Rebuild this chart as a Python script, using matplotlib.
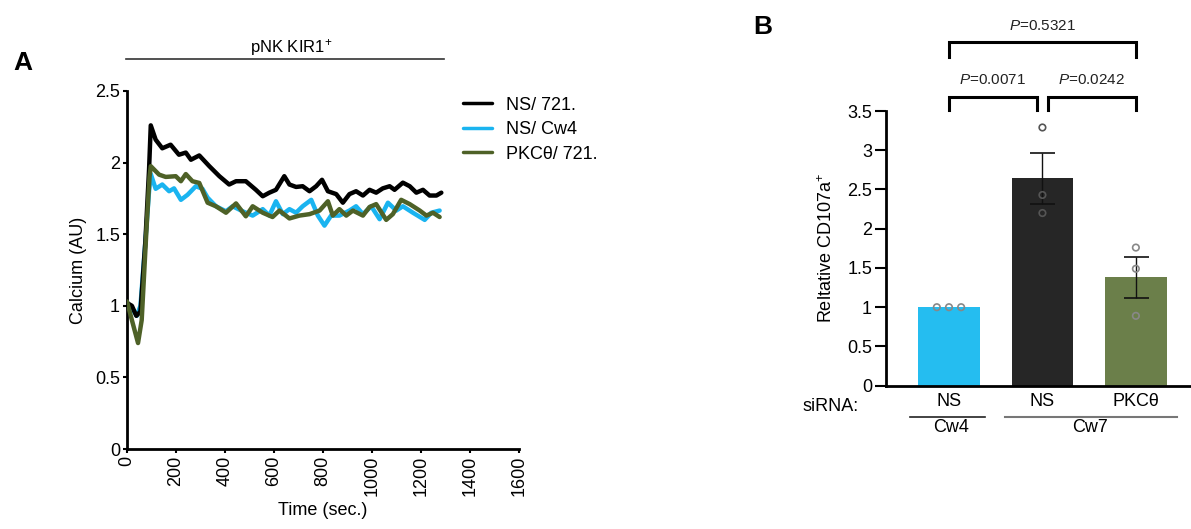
import matplotlib
matplotlib.use("Agg")
import matplotlib.pyplot as plt
import numpy as np

plt.rcParams['font.family'] = ['Liberation Sans', 'DejaVu Sans']
plt.rcParams['mathtext.fontset'] = 'custom'
plt.rcParams['mathtext.rm'] = 'Liberation Sans'
plt.rcParams['mathtext.it'] = 'Liberation Sans:italic'

# --- panel A: calcium traces ---
t_black = [0, 20, 38, 55, 75, 90, 97, 117, 144, 178, 212, 240, 261, 295, 336, 377, 417, 445,
           485, 526, 554, 581, 608, 642, 663, 690, 717, 745, 772, 796, 820, 854, 881, 908,
           935, 963, 990, 1017, 1044, 1072, 1092, 1126, 1154, 1181, 1208, 1235, 1263, 1283]
ca_black = [1.02, 1.0, 0.93, 0.96, 1.45, 1.95, 2.26, 2.16, 2.10, 2.125, 2.055, 2.07, 2.02, 2.05,
            1.975, 1.905, 1.847, 1.87, 1.87, 1.81, 1.765, 1.79, 1.81, 1.905, 1.847, 1.83,
            1.835, 1.80, 1.835, 1.88, 1.80, 1.78, 1.72, 1.78, 1.80, 1.77, 1.81, 1.79, 1.82,
            1.835, 1.81, 1.86, 1.835, 1.79, 1.81, 1.77, 1.77, 1.79]

t_blue = [0, 20, 40, 55, 75, 90, 97, 117, 144, 172, 192, 220, 247, 281, 308, 329, 363, 404,
          431, 472, 513, 554, 581, 608, 636, 663, 690, 717, 752, 779, 806, 833, 867, 908,
          935, 963, 997, 1031, 1065, 1099, 1126, 1167, 1215, 1242, 1276]
ca_blue = [0.97, 0.98, 0.93, 1.0, 1.45, 1.8, 1.92, 1.817, 1.847, 1.80, 1.82, 1.74, 1.775, 1.835,
           1.817, 1.755, 1.695, 1.66, 1.695, 1.66, 1.63, 1.675, 1.63, 1.73, 1.64, 1.675, 1.65,
           1.695, 1.74, 1.63, 1.56, 1.63, 1.63, 1.665, 1.695, 1.64, 1.695, 1.605, 1.72,
           1.665, 1.695, 1.65, 1.60, 1.65, 1.665]

t_green = [0, 20, 45, 60, 80, 92, 97, 131, 158, 199, 220, 240, 267, 295, 329, 363, 404, 445,
           485, 513, 554, 594, 622, 663, 704, 745, 786, 820, 840, 867, 895, 922, 963, 990,
           1017, 1058, 1085, 1119, 1154, 1195, 1222, 1249, 1276]
ca_green = [1.03, 0.9, 0.74, 0.9, 1.55, 1.9, 1.975, 1.916, 1.90, 1.905, 1.87, 1.92, 1.87, 1.858,
            1.72, 1.695, 1.65, 1.715, 1.625, 1.695, 1.65, 1.62, 1.665, 1.61, 1.63, 1.64,
            1.665, 1.73, 1.63, 1.675, 1.63, 1.665, 1.63, 1.69, 1.71, 1.60, 1.64, 1.74, 1.71,
            1.665, 1.63, 1.65, 1.62]

# --- panel B: CD107a ---
bar_means = [1.0, 2.64, 1.38]
bar_sem = [0.0, 0.33, 0.26]
bar_points = [[1.0, 1.0, 1.0], [3.29, 2.43, 2.20], [1.76, 1.49, 0.89]]
bar_colors = ['#25bdf0', '#262626', '#6b7f4a']
sirna_labels = ['NS', 'NS', 'PKC\u03b8']
pvals = ['0.0071', '0.0242', '0.5321']

W, H = 1191, 529
fig = plt.figure(figsize=(W / 100, H / 100), dpi=100)

# panel A
axA = fig.add_axes([127 / W, 1 - 449 / H, 392 / W, 358 / H])
kw = dict(lw=3.2, solid_joinstyle='round', solid_capstyle='round')
axA.plot(t_black, ca_black, color='#000000', label='NS/ 721.', zorder=3, **kw)
axA.plot(t_blue, ca_blue, color='#1ab4f0', label='NS/ Cw4', zorder=2, **kw)
axA.plot(t_green, ca_green, color='#4e6127', label='PKC\u03b8/ 721.', zorder=4, **kw)
axA.set_xlim(0, 1600)
axA.set_ylim(0, 2.5)
axA.set_xticks(np.arange(0, 1601, 200))
axA.set_yticks([0, 0.5, 1, 1.5, 2, 2.5])
axA.set_yticklabels(['0', '0.5', '1', '1.5', '2', '2.5'])
for s in ['top', 'right']:
    axA.spines[s].set_visible(False)
for s in ['left', 'bottom']:
    axA.spines[s].set_linewidth(2)
axA.tick_params(axis='both', labelsize=13, width=1.5, length=3, direction='out', pad=2)
axA.tick_params(axis='x', labelrotation=90)
axA.set_xlabel('Time (sec.)', fontsize=13, labelpad=4)
axA.set_ylabel('Calcium (AU)', fontsize=13, labelpad=6)
axA.legend(loc='upper left', bbox_to_anchor=(0.815, 1.03), frameon=False, fontsize=13,
           handlelength=1.6, handletextpad=0.8, labelspacing=0.42)
for line in axA.get_legend().get_lines():
    line.set_linewidth(2.5)

fig.text(291 / W, 1 - 47 / H, 'pNK KIR1$^{+}$', ha='center', va='center', fontsize=12)
fig.add_artist(plt.Line2D([126 / W, 444 / W], [1 - 59 / H, 1 - 59 / H], color='#333333', lw=1.2))
fig.text(23 / W, 1 - 63 / H, 'A', ha='center', va='center', fontsize=19, fontweight='bold')
fig.text(763 / W, 1 - 27 / H, 'B', ha='center', va='center', fontsize=19, fontweight='bold')

# panel B
axB = fig.add_axes([886 / W, 1 - 385.7 / H, (W - 886) / W, 274.7 / H])
xpos = np.arange(len(bar_means))
axB.bar(xpos, bar_means, width=0.66, color=bar_colors, zorder=1)
axB.errorbar(xpos[1:], bar_means[1:], yerr=bar_sem[1:], fmt='none', ecolor='#111111',
             elinewidth=1, capsize=9, capthick=1.2, zorder=3)
offsets = [[-0.13, 0, 0.13], [0, 0, 0], [0, 0, 0]]
for i, pts in enumerate(bar_points):
    ec = '#888888' if i != 1 else '#555555'
    axB.scatter([xpos[i] + o for o in offsets[i]], pts, s=22, facecolor='none',
                edgecolor=ec, linewidth=1.2, zorder=4, clip_on=False)
axB.set_xlim(-0.674, 2.59)
axB.set_ylim(0, 3.5)
axB.set_yticks(np.arange(0, 3.51, 0.5))
axB.set_yticklabels(['0', '0.5', '1', '1.5', '2', '2.5', '3', '3.5'])
axB.set_xticks([])
for s in ['top', 'right']:
    axB.spines[s].set_visible(False)
for s in ['left', 'bottom']:
    axB.spines[s].set_linewidth(2)
axB.tick_params(axis='y', labelsize=13, width=1.5, length=8, direction='out', pad=2)
axB.set_ylabel('Reltative CD107a$^{+}$', fontsize=13, labelpad=8)

# significance brackets
def bracket(x0, x1, y, h, txt, ty):
    axB.plot([x0, x0, x1, x1], [y - h, y, y, y - h], color='black', lw=2.2,
             clip_on=False, solid_joinstyle='miter')
    axB.text((x0 + x1) / 2, ty, '$P$=' + txt, ha='center', va='center', fontsize=11,
             color='#222222')

bracket(0, 0.94, 3.68, 0.17, pvals[0], 3.89)
bracket(1.06, 2, 3.68, 0.17, pvals[1], 3.89)
bracket(0, 2, 4.38, 0.19, pvals[2], 4.58)

# siRNA annotations
for i, lab in enumerate(sirna_labels):
    axB.text(xpos[i], -0.195, lab, ha='center', va='center', fontsize=13, clip_on=False)
axB.text(-0.97, -0.26, 'siRNA:', ha='right', va='center', fontsize=13)
axB.plot([-0.417, 0.39], [-0.405, -0.405], color='#222222', lw=1.2, clip_on=False)
axB.plot([0.6, 2.435], [-0.405, -0.405], color='#777777', lw=1.5, clip_on=False)
axB.text(0.02, -0.53, 'Cw4', ha='center', va='center', fontsize=13)
axB.text(1.51, -0.53, 'Cw7', ha='center', va='center', fontsize=13)

fig.savefig('out.png', dpi=100)
